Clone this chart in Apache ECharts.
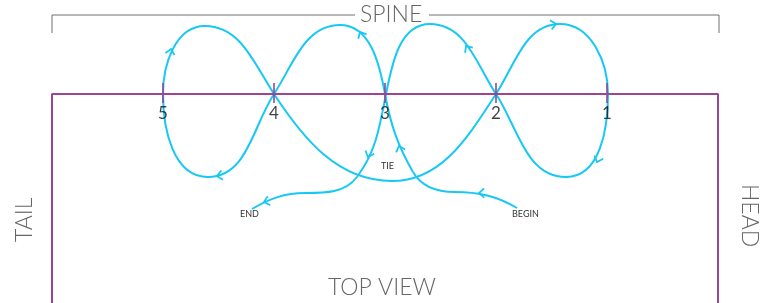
<!DOCTYPE html>
<html>
<head>
<meta charset="utf-8">
<script src="https://cdn.jsdelivr.net/npm/echarts@6/dist/echarts.min.js"></script>
<style>
  html, body { margin: 0; padding: 0; background: #fff; }
  #main { width: 776px; height: 303px; }
</style>
</head>
<body>
<div id="main"></div>
<script>
// spine positions (5 = tail ... 1 = head)
var spineX = [163, 274, 385, 496, 607];
var spineLabels = ['5', '4', '3', '2', '1'];

// knot path nodes from BEGIN to END: x, y, tangent dx, tangent dy
var knotNodes = [
  [517,208,-0.85,-0.5],
  [455,192,-1,0],
  [413,172,-0.5,-0.87],
  [385,94,-0.18,-1],
  [340,25,-1,0],
  [274,94,-0.55,0.84],
  [208,177,-1,0],
  [163,94,0,-1],
  [205,26,1,0],
  [274,94,0.55,0.84],
  [392,181,1,0],
  [496,94,0.55,-0.84],
  [560,24,1,0],
  [608,94,0,1],
  [566,177,-1,0],
  [496,94,-0.55,-0.84],
  [430,24,-1,0],
  [386,94,-0.2,1],
  [357,177,-0.6,0.8],
  [305,193,-1,0],
  [252,209,-0.85,0.5]
];

// arrow heads: x, y (tip), direction (deg, ccw from "up")
var arrows = [
  [171,49,-12],[217,176,100],[360,32,28],[368,157,160],[264,202,105],
  [399,146,18],[479,193,90],[466,46,35],[556,24,-80],[597,162,160]
];

var frameColor = '#9c4595';
var ropeColor = '#18c8f4';
var greyText = '#666';

var chart = echarts.init(document.getElementById('main'));

function renderRope(params, api) {
  var i = params.dataIndex;
  if (i >= knotNodes.length - 1) return null;
  var a = knotNodes[i], b = knotNodes[i + 1];
  var chord = Math.sqrt((b[0] - a[0]) * (b[0] - a[0]) + (b[1] - a[1]) * (b[1] - a[1]));
  var h = chord * 0.37;
  var la = Math.sqrt(a[2] * a[2] + a[3] * a[3]);
  var lb = Math.sqrt(b[2] * b[2] + b[3] * b[3]);
  var p0 = api.coord([a[0], a[1]]);
  var p1 = api.coord([a[0] + a[2] / la * h, a[1] + a[3] / la * h]);
  var p2 = api.coord([b[0] - b[2] / lb * h, b[1] - b[3] / lb * h]);
  var p3 = api.coord([b[0], b[1]]);
  return {
    type: 'bezierCurve',
    shape: { x1: p0[0], y1: p0[1], cpx1: p1[0], cpy1: p1[1], cpx2: p2[0], cpy2: p2[1], x2: p3[0], y2: p3[1] },
    style: { stroke: ropeColor, lineWidth: 2, fill: null }
  };
}

function renderArrow(params, api) {
  var tip = api.coord([api.value(0), api.value(1)]);
  var t = api.value(2) * Math.PI / 180;
  // backwards direction
  var bx = Math.sin(t), by = Math.cos(t);
  var arm = 7, spread = 42 * Math.PI / 180;
  function rot(s) {
    var c = Math.cos(s), n = Math.sin(s);
    return [tip[0] + (bx * c - by * n) * arm, tip[1] + (bx * n + by * c) * arm];
  }
  return {
    type: 'polyline',
    shape: { points: [rot(spread), tip, rot(-spread)] },
    style: { stroke: ropeColor, lineWidth: 1.8, fill: null }
  };
}

var option = {
  animation: false,
  grid: { left: 0, right: 0, top: 0, bottom: 0 },
  xAxis: { type: 'value', min: 0, max: 776, show: false },
  yAxis: { type: 'value', min: 0, max: 303, inverse: true, show: false },
  graphic: [
    { type: 'text', left: 360, top: 3, style: { text: 'SPINE', fill: greyText, font: '300 23px Lato' } },
    { type: 'text', x: 13, y: 242, rotation: Math.PI / 2, style: { text: 'TAIL', fill: greyText, font: '300 23px Lato' } },
    { type: 'text', x: 761, y: 184, rotation: -Math.PI / 2, style: { text: 'HEAD', fill: greyText, font: '300 23px Lato' } },
    { type: 'text', left: 328, top: 276, style: { text: 'TOP VIEW', fill: greyText, font: '300 23px Lato' } },
    { type: 'text', left: 381, top: 162, style: { text: 'TIE', fill: '#333', font: '9px Lato' } },
    { type: 'text', left: 240, top: 210, style: { text: 'END', fill: '#333', font: '9px Lato' } },
    { type: 'text', left: 512, top: 210, style: { text: 'BEGIN', fill: '#333', font: '9px Lato' } }
  ],
  series: [
    { // spine bracket, left part
      type: 'line', symbol: 'none', silent: true,
      lineStyle: { color: '#707070', width: 1 },
      data: [[52,33],[52,15],[355,15]]
    },
    { // spine bracket, right part
      type: 'line', symbol: 'none', silent: true,
      lineStyle: { color: '#707070', width: 1 },
      data: [[429,15],[719,15],[719,33]]
    },
    { // body outline
      type: 'line', symbol: 'none', silent: true,
      lineStyle: { color: frameColor, width: 2 },
      data: [[52,310],[52,94],[718,94],[718,310]]
    },
    { // rope
      type: 'custom', silent: true,
      renderItem: renderRope,
      data: knotNodes.map(function (n) { return [n[0], n[1]]; })
    },
    { // spine ticks + numbers
      type: 'scatter', silent: true,
      symbol: 'rect', symbolSize: [2, 20],
      itemStyle: { color: '#8a4a9a' },
      label: {
        show: true, position: 'bottom', distance: 2,
        color: '#111', fontSize: 17, fontFamily: 'Lato',
        formatter: function (p) { return spineLabels[p.dataIndex]; }
      },
      data: spineX.map(function (x) { return [x, 93]; })
    },
    { // arrow heads
      type: 'custom', silent: true,
      renderItem: renderArrow,
      data: arrows
    }
  ]
};

chart.setOption(option);
</script>
</body>
</html>
